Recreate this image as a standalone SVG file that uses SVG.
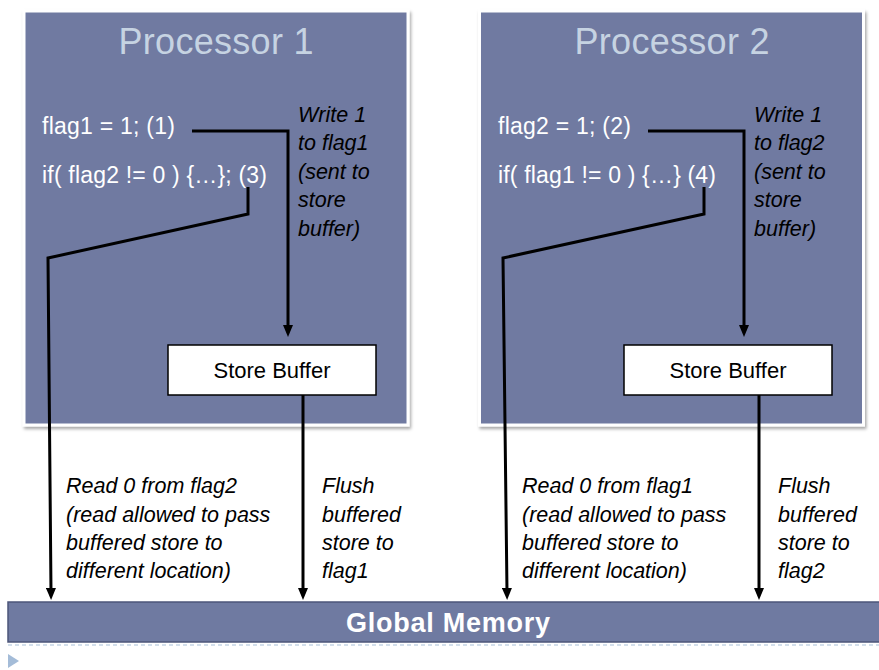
<svg xmlns="http://www.w3.org/2000/svg" width="879" height="670" viewBox="0 0 879 670">
  <style>
    .proc { fill: #6F7AA1; stroke: #FFFFFF; stroke-width: 3; filter: url(#shadow); }
    .title { font-family: "Liberation Sans", Arial, sans-serif; font-size: 36px; fill: #C6D3E2; text-anchor: middle; }
    .code { font-family: "Liberation Sans", Arial, sans-serif; font-size: 23px; fill: #FFFFFF; }
    .note { font-family: "Liberation Sans", Arial, sans-serif; font-size: 21.5px; font-style: italic; fill: #000000; }
    .buf { fill: #FFFFFF; stroke: #000000; stroke-width: 1.5; }
    .buftext { font-family: "Liberation Sans", Arial, sans-serif; font-size: 22px; fill: #000000; text-anchor: middle; }
    .wire { fill: none; stroke: #000000; stroke-width: 3; stroke-linejoin: miter; marker-end: url(#arrow); }
    .mem { fill: #6F7AA1; stroke: #4C5679; stroke-width: 1.5; }
    .memtext { font-family: "Liberation Sans", Arial, sans-serif; font-size: 27px; font-weight: bold; fill: #FFFFFF; text-anchor: middle; }
  </style>
  <defs>
    <filter id="shadow" x="-5%" y="-5%" width="110%" height="110%">
      <feDropShadow dx="1.5" dy="2.5" stdDeviation="1.5" flood-color="#000000" flood-opacity="0.35"/>
    </filter>
    <marker id="arrow" markerUnits="userSpaceOnUse" markerWidth="12" markerHeight="10" refX="4" refY="5" orient="auto">
      <path d="M0,0 L12,5 L0,10 z" fill="#000000"/>
    </marker>
  </defs>

  <!-- Processor 1 -->
  <g id="processor1">
    <rect class="proc" x="24" y="11" width="384" height="414"/>
    <text class="title" x="216" y="54" textLength="195">Processor 1</text>
    <text class="code" x="42" y="134" textLength="133">flag1 = 1; (1)</text>
    <text class="code" x="42" y="183" textLength="225">if( flag2 != 0 ) {…}; (3)</text>
    <text class="note">
      <tspan x="298" y="122">Write 1</tspan>
      <tspan x="298" y="150">to flag1</tspan>
      <tspan x="298" y="179">(sent to</tspan>
      <tspan x="298" y="207">store</tspan>
      <tspan x="298" y="236">buffer)</tspan>
    </text>
  </g>

  <g id="storebuffer1">
    <rect class="buf" x="168" y="345" width="208" height="50"/>
    <text class="buftext" x="272" y="378">Store Buffer</text>
  </g>

  <!-- Processor 2 -->
  <g id="processor2">
    <rect class="proc" x="479.5" y="11" width="384" height="414"/>
    <text class="title" x="672" y="54" textLength="195">Processor 2</text>
    <text class="code" x="498" y="134" textLength="133">flag2 = 1; (2)</text>
    <text class="code" x="498" y="183" textLength="218">if( flag1 != 0 ) {…} (4)</text>
    <text class="note">
      <tspan x="754" y="122">Write 1</tspan>
      <tspan x="754" y="150">to flag2</tspan>
      <tspan x="754" y="179">(sent to</tspan>
      <tspan x="754" y="207">store</tspan>
      <tspan x="754" y="236">buffer)</tspan>
    </text>
  </g>

  <g id="storebuffer2">
    <rect class="buf" x="624" y="345" width="208" height="50"/>
    <text class="buftext" x="728" y="378">Store Buffer</text>
  </g>

  <!-- Shared memory -->
  <g id="globalmemory">
    <rect class="mem" x="8" y="602" width="875" height="40"/>
    <text class="memtext" x="448" y="632" textLength="204">Global Memory</text>
  </g>

  <!-- Connectors -->
  <g id="connectors">
    <path class="wire" d="M192,131 H288 V329"/>
    <path class="wire" d="M248,187 V214 L48,258 L51,592"/>
    <path class="wire" d="M303,395 V592"/>
    <path class="wire" d="M648,131 H744 V329"/>
    <path class="wire" d="M704,187 V214 L503,258 L507,592"/>
    <path class="wire" d="M759,395 V592"/>
  </g>

  <!-- Connector labels -->
  <g id="labels">
    <text class="note">
      <tspan x="66" y="493">Read 0 from flag2</tspan>
      <tspan x="66" y="522">(read allowed to pass</tspan>
      <tspan x="66" y="550">buffered store to</tspan>
      <tspan x="66" y="578">different location)</tspan>
    </text>
    <text class="note">
      <tspan x="322" y="493">Flush</tspan>
      <tspan x="322" y="522">buffered</tspan>
      <tspan x="322" y="550">store to</tspan>
      <tspan x="322" y="578">flag1</tspan>
    </text>
    <text class="note">
      <tspan x="522" y="493">Read 0 from flag1</tspan>
      <tspan x="522" y="522">(read allowed to pass</tspan>
      <tspan x="522" y="550">buffered store to</tspan>
      <tspan x="522" y="578">different location)</tspan>
    </text>
    <text class="note">
      <tspan x="778" y="493">Flush</tspan>
      <tspan x="778" y="522">buffered</tspan>
      <tspan x="778" y="550">store to</tspan>
      <tspan x="778" y="578">flag2</tspan>
    </text>
  </g>

  <!-- Slide footer -->
  <line x1="8" y1="645" x2="879" y2="645" stroke="#A9C0D8" stroke-width="1" stroke-dasharray="4 3"/>
  <polygon points="8,654 19,661 8,668" fill="#A4BCD8"/>
</svg>
